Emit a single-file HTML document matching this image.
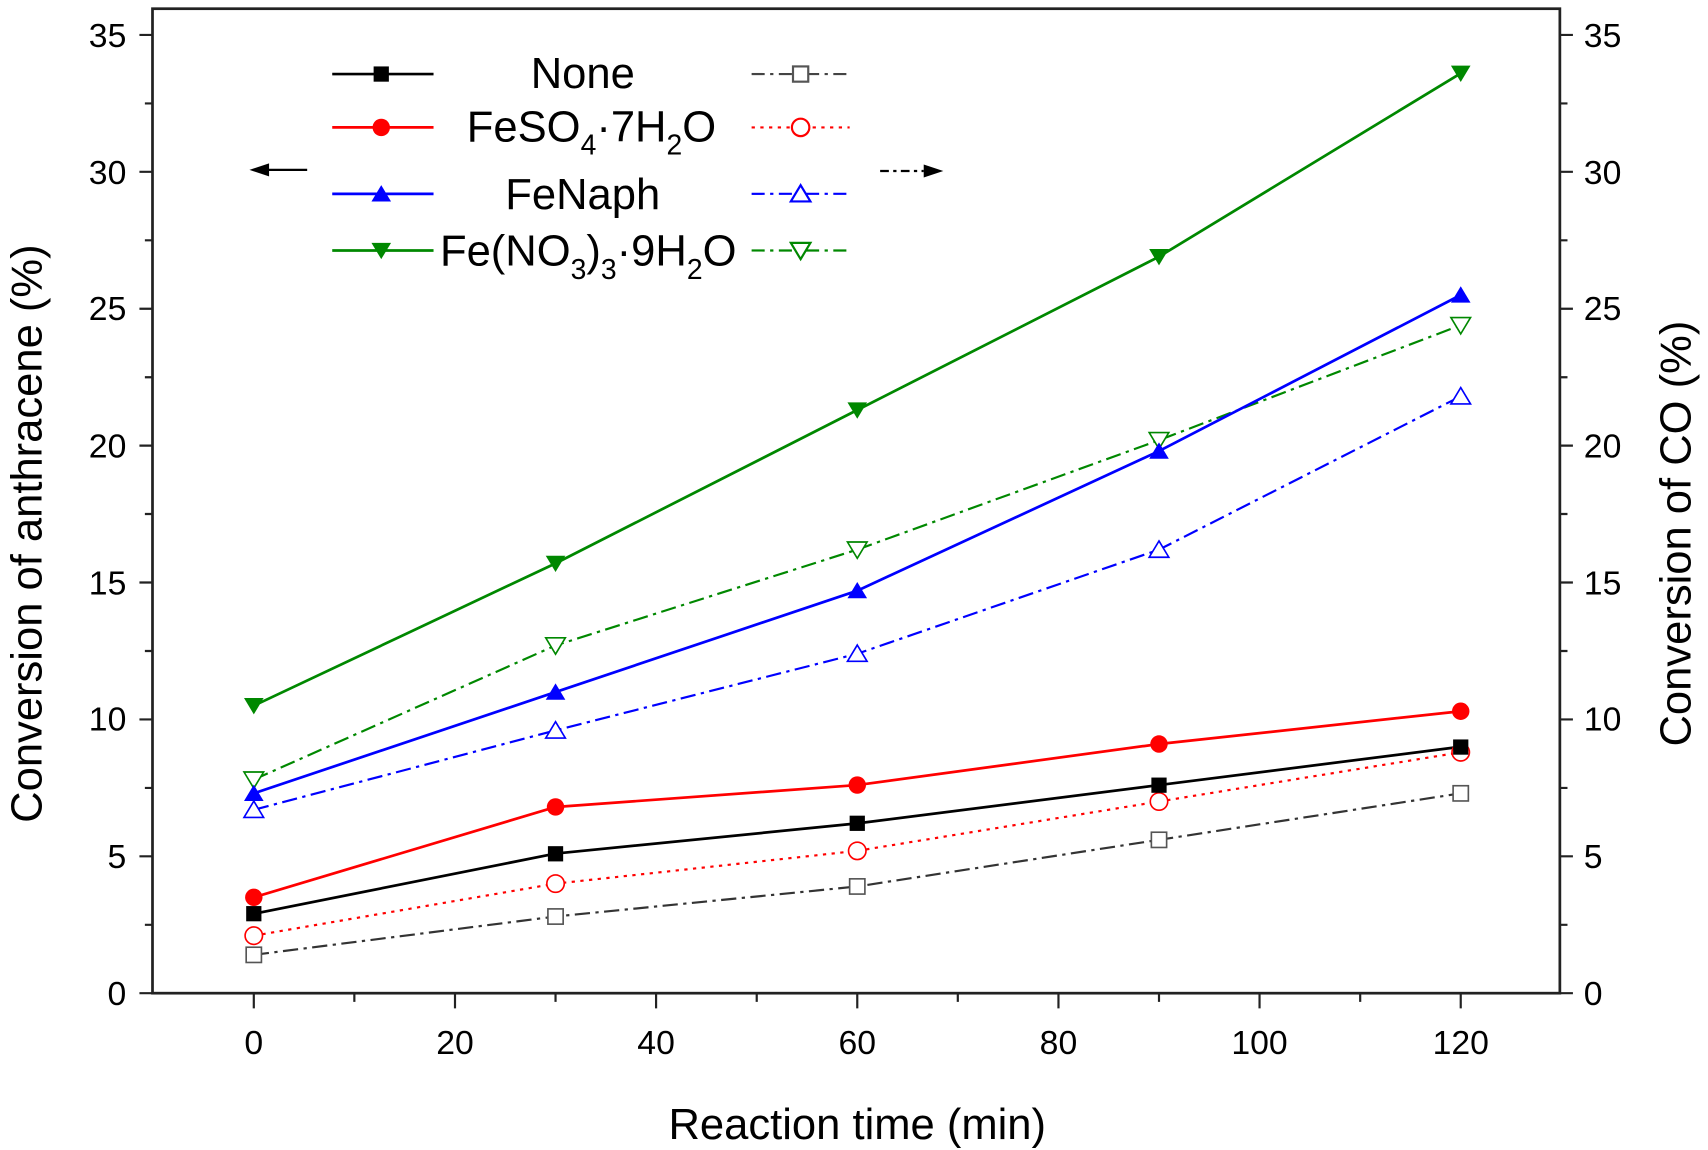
<!DOCTYPE html>
<html><head><meta charset="utf-8"><style>
html,body{margin:0;padding:0;background:#fff;}
svg{display:block;}
text{font-family:"Liberation Sans",Arial,sans-serif;fill:#000;}
</style></head><body>
<svg width="1708" height="1150" viewBox="0 0 1568 1056" preserveAspectRatio="none" xmlns="http://www.w3.org/2000/svg">
<rect width="1568" height="1056" fill="#fff"/>
<rect x="140" y="8" width="1292" height="904" fill="none" stroke="#222" stroke-width="2.5"/>
<g stroke="#222" stroke-width="2">
<path d="M128 912H140M128 786.3H140M128 660.6H140M128 534.9H140M128 409.2H140M128 283.5H140M128 157.8H140M128 32.1H140"/>
<path d="M133 849.2H140M133 723.5H140M133 597.8H140M133 472H140M133 346.4H140M133 220.7H140M133 95H140"/>
<path d="M1432 912H1444M1432 786.3H1444M1432 660.6H1444M1432 534.9H1444M1432 409.2H1444M1432 283.5H1444M1432 157.8H1444M1432 32.1H1444"/>
<path d="M1432 849.2H1439M1432 723.5H1439M1432 597.8H1439M1432 472H1439M1432 346.4H1439M1432 220.7H1439M1432 95H1439"/>
<path d="M233 912V926M417.7 912V926M602.3 912V926M787 912V926M971.7 912V926M1156.3 912V926M1341 912V926"/>
<path d="M325.3 912V920M510 912V920M694.7 912V920M879.3 912V920M1064 912V920M1248.7 912V920"/>
</g>
<g font-size="31" text-anchor="end">
<text x="116" y="923">0</text><text x="116" y="797">5</text><text x="116" y="671">10</text><text x="116" y="546">15</text><text x="116" y="420">20</text><text x="116" y="294">25</text><text x="116" y="169">30</text><text x="116" y="43">35</text>
</g>
<g font-size="31" text-anchor="start">
<text x="1454" y="923">0</text><text x="1454" y="797">5</text><text x="1454" y="671">10</text><text x="1454" y="546">15</text><text x="1454" y="420">20</text><text x="1454" y="294">25</text><text x="1454" y="169">30</text><text x="1454" y="43">35</text>
</g>
<g font-size="31" text-anchor="middle">
<text x="233" y="968">0</text><text x="417.7" y="968">20</text><text x="602.3" y="968">40</text><text x="787" y="968">60</text><text x="971.7" y="968">80</text><text x="1156.3" y="968">100</text><text x="1341" y="968">120</text>
</g>
<text x="787" y="1046" font-size="40" text-anchor="middle">Reaction time (min)</text>
<text transform="translate(38,490) rotate(-90)" font-size="40" text-anchor="middle">Conversion of anthracene (%)</text>
<text transform="translate(1552,490) rotate(-90)" font-size="40" text-anchor="middle">Conversion of CO (%)</text>

<g fill="none" stroke-width="2">
<polyline stroke="#333" stroke-dasharray="14,5,3,5" points="233,876.8 510,841.6 787,814 1064,771.2 1341,728.5"/>
<polyline stroke="#f00" stroke-dasharray="3,5" points="233,859.2 510,811.4 787,781.3 1064,736 1341,690.8"/>
<polyline stroke="#00f" stroke-dasharray="14,5,3,5" points="233,743.6 510,670.7 787,600.3 1064,504.7 1341,363.9"/>
<polyline stroke="#080" stroke-dasharray="14,5,3,5" points="233,715.9 510,592.7 787,504.7 1064,404.2 1341,298.6"/>
</g>
<g fill="none" stroke-width="2.5">
<polyline stroke="#000" points="233,839.1 510,783.8 787,756.1 1064,720.9 1341,685.7"/>
<polyline stroke="#f00" points="233,824 510,741 787,720.9 1064,683.2 1341,653.1"/>
<polyline stroke="#00f" points="233,728.5 510,635.5 787,542.4 1064,414.2 1341,270.9"/>
<polyline stroke="#080" points="233,648 510,517.3 787,376.5 1064,235.7 1341,67.3"/>
</g>
<g fill="#fff" stroke-width="1.5">
<g stroke="#555"><rect x="226" y="869.8" width="14" height="14"/><rect x="503" y="834.6" width="14" height="14"/><rect x="780" y="807" width="14" height="14"/><rect x="1057" y="764.2" width="14" height="14"/><rect x="1334" y="721.5" width="14" height="14"/></g>
<g stroke="#f00"><circle cx="233" cy="859.2" r="8"/><circle cx="510" cy="811.4" r="8"/><circle cx="787" cy="781.3" r="8"/><circle cx="1064" cy="736" r="8"/><circle cx="1341" cy="690.8" r="8"/></g>
<g stroke="#00f"><path d="M233 735.6l9 15h-18z"/><path d="M510 662.7l9 15h-18z"/><path d="M787 592.3l9 15h-18z"/><path d="M1064 496.7l9 15h-18z"/><path d="M1341 355.9l9 15h-18z"/></g>
<g stroke="#080"><path d="M233 723.9l9 -15h-18z"/><path d="M510 600.7l9 -15h-18z"/><path d="M787 512.7l9 -15h-18z"/><path d="M1064 412.2l9 -15h-18z"/><path d="M1341 306.6l9 -15h-18z"/></g>
</g>
<g fill="#000"><rect x="226" y="832" width="14" height="14"/><rect x="503" y="777" width="14" height="14"/><rect x="780" y="749" width="14" height="14"/><rect x="1057" y="714" width="14" height="14"/><rect x="1334" y="679" width="14" height="14"/></g>
<g fill="#f00"><circle cx="233" cy="824" r="8"/><circle cx="510" cy="741" r="8"/><circle cx="787" cy="720.9" r="8"/><circle cx="1064" cy="683.2" r="8"/><circle cx="1341" cy="653.1" r="8"/></g>
<g fill="#00f"><path d="M233 720.5l9 15h-18z"/><path d="M510 627.5l9 15h-18z"/><path d="M787 534.4l9 15h-18z"/><path d="M1064 406.2l9 15h-18z"/><path d="M1341 262.9l9 15h-18z"/></g>
<g fill="#080"><path d="M233 656l9 -15h-18z"/><path d="M510 525.3l9 -15h-18z"/><path d="M787 384.5l9 -15h-18z"/><path d="M1064 243.7l9 -15h-18z"/><path d="M1341 75.3l9 -15h-18z"/></g>

<g stroke-width="2.5">
<line x1="305" y1="68" x2="398" y2="68" stroke="#000"/><rect x="343" y="61" width="14" height="14" fill="#000"/>
<line x1="305" y1="117" x2="398" y2="117" stroke="#f00"/><circle cx="350" cy="117" r="8" fill="#f00"/>
<line x1="305" y1="178" x2="398" y2="178" stroke="#00f"/><path d="M350 170l9 15h-18z" fill="#00f"/>
<line x1="305" y1="230" x2="398" y2="230" stroke="#080"/><path d="M350 238l9 -15h-18z" fill="#080"/>
</g>
<g stroke-width="2" fill="#fff">
<line x1="690" y1="68" x2="780" y2="68" stroke="#444" stroke-dasharray="12,5,3,5"/><rect x="728" y="61" width="14" height="14" stroke="#555"/>
<line x1="690" y1="117" x2="780" y2="117" stroke="#f00" stroke-dasharray="3,5"/><circle cx="735" cy="117" r="8" stroke="#f00"/>
<line x1="690" y1="178" x2="780" y2="178" stroke="#00f" stroke-dasharray="12,5,3,5"/><path d="M735 170l9 15h-18z" stroke="#00f"/>
<line x1="690" y1="230" x2="780" y2="230" stroke="#080" stroke-dasharray="12,5,3,5"/><path d="M735 238l9 -15h-18z" stroke="#080"/>
</g>
<g font-size="40" text-anchor="middle">
<text x="535" y="81">None</text>
<text x="543" y="130">FeSO<tspan font-size="26" dy="12">4</tspan><tspan dy="-12">·7H</tspan><tspan font-size="26" dy="12">2</tspan><tspan dy="-12">O</tspan></text>
<text x="535" y="192">FeNaph</text>
<text x="540" y="244">Fe(NO<tspan font-size="26" dy="12">3</tspan><tspan dy="-12">)</tspan><tspan font-size="26" dy="12">3</tspan><tspan dy="-12">·9H</tspan><tspan font-size="26" dy="12">2</tspan><tspan dy="-12">O</tspan></text>
</g>
<line x1="245" y1="156" x2="282" y2="156" stroke="#000" stroke-width="2"/><path d="M229 156l18 -6v12z" fill="#000"/>
<line x1="808" y1="157" x2="848" y2="157" stroke="#000" stroke-width="2" stroke-dasharray="8,4,3,4"/><path d="M866 157l-18 -6v12z" fill="#000"/>
</svg>
</body></html>
